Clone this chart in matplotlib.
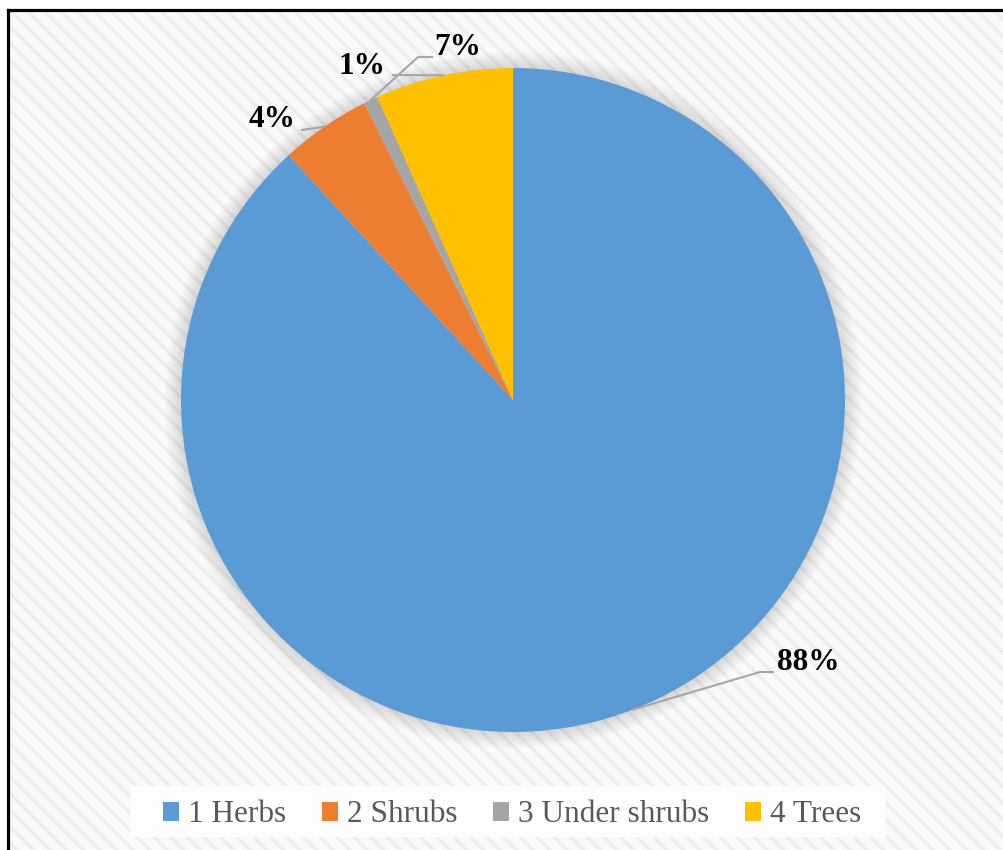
import matplotlib.pyplot as plt
from matplotlib.patches import Rectangle, Circle
import numpy as np

# data
categories = ["1 Herbs", "2 Shrubs", "3 Under shrubs", "4 Trees"]
values = [88.2, 4.4, 0.7, 6.7]
colors = ["#5B9BD5", "#ED7D31", "#A5A5A5", "#FFC000"]
pct_labels = [f"{round(v)}%" for v in values]

# layout in pixels (y up), figure 1004 x 850
W, H = 1004, 850
cx, cy, r = 513, 450, 332
# label text centres and leader elbows
label_pos = [(808, 187), (272, 731), (362, 784), (458, 803)]
leader_pts = [[(760, 178), (773, 178)],
              [(322, 723), (302, 720)],
              [(418, 793), (432, 793)],
              [(393, 775)]]

plt.rcParams['hatch.linewidth'] = 2.6
fig = plt.figure(figsize=(W / 100, H / 100), dpi=100)
fig.patch.set_facecolor("white")
ax = fig.add_axes([0, 0, 1, 1])

wedges, _ = ax.pie(values, colors=colors, startangle=90, counterclock=False,
                   center=(cx, cy), radius=r,
                   wedgeprops=dict(linewidth=0, zorder=3))
ax.set_xlim(0, W)
ax.set_ylim(0, H)
ax.set_aspect('auto')
ax.axis('off')

# hatched background
bg = Rectangle((8, 0), W - 8, H - 9.5, facecolor="#fafafa", edgecolor="#eeeeee",
               hatch="\\\\", linewidth=0, zorder=0)
ax.add_patch(bg)

# soft shadow around pie
for k in range(1, 18):
    ax.add_patch(Circle((cx, cy), r + k, facecolor="black", alpha=0.008,
                        linewidth=0, zorder=1))

# border
ax.plot([8, 8], [0, H - 9.5], color="black", lw=2.3, zorder=5, solid_capstyle='projecting')
ax.plot([8, W], [H - 9.5, H - 9.5], color="black", lw=2.3, zorder=5, solid_capstyle='projecting')

# labels with leader lines
for w, txt, pos, pts in zip(wedges, pct_labels, label_pos, leader_pts):
    mid = np.deg2rad((w.theta1 + w.theta2) / 2)
    ex, ey = cx + r * np.cos(mid), cy + r * np.sin(mid)
    xs = [ex] + [p[0] for p in pts]
    ys = [ey] + [p[1] for p in pts]
    ax.plot(xs, ys, color="#a6a6a6", lw=1.5, zorder=4)
    ax.text(pos[0], pos[1], txt, ha="center", va="center", fontsize=22.5,
            fontweight="bold", family="Liberation Serif", color="black", zorder=6)

# legend
ax.add_patch(Rectangle((130, 13), 756, 51, facecolor="#fdfdfd", edgecolor="none", zorder=2))
handles = [Rectangle((0, 0), 1, 1, facecolor=c, edgecolor="none") for c in colors]
leg = ax.legend(handles, categories, loc="center", bbox_to_anchor=(512 / W, 35 / H),
                ncol=4, frameon=False, prop={"family": "Liberation Serif", "size": 22.5},
                handlelength=0.52, handleheight=0.52, handletextpad=0.28,
                columnspacing=1.15, borderpad=0)
for t in leg.get_texts():
    t.set_color("#595959")

fig.savefig("out.png", dpi=100)
